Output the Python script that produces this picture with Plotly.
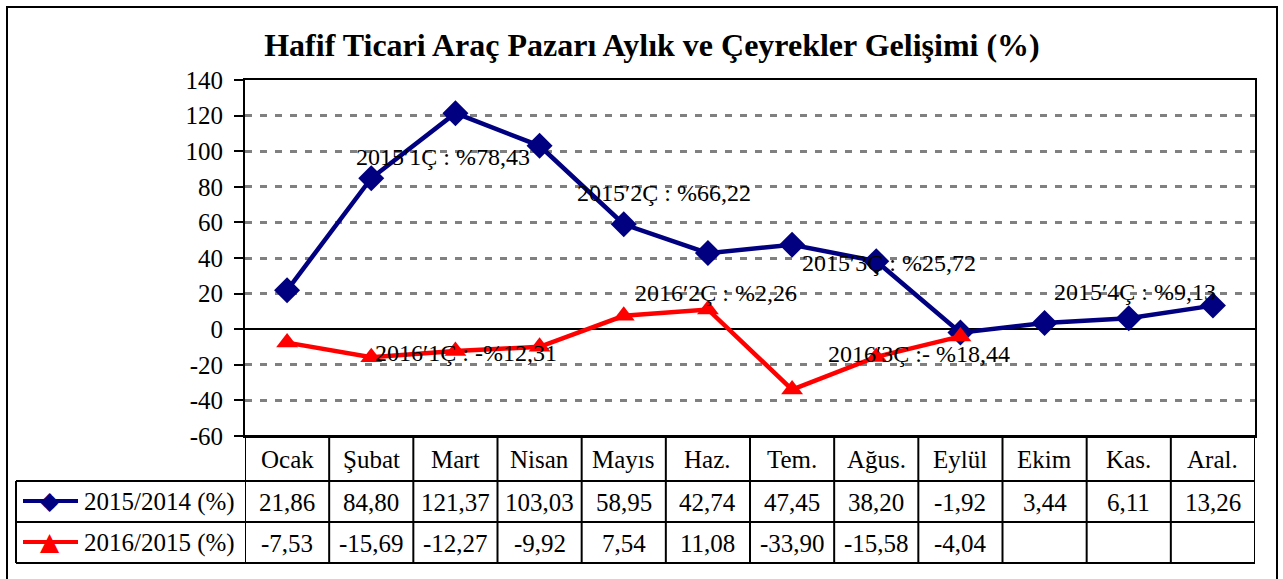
import plotly.graph_objects as go

months = ["Ocak", "Şubat", "Mart", "Nisan", "Mayıs", "Haz.", "Tem.", "Ağus.", "Eylül", "Ekim", "Kas.", "Aral."]
s2015 = [21.86, 84.80, 121.37, 103.03, 58.95, 42.74, 47.45, 38.20, -1.92, 3.44, 6.11, 13.26]
s2016 = [-7.53, -15.69, -12.27, -9.92, 7.54, 11.08, -33.90, -15.58, -4.04, None, None, None]
series_names = ["2015/2014 (%)", "2016/2015 (%)"]
quarter_labels = ["2015′1Ç : %78,43", "2015′2Ç : %66,22", "2015′3Ç : %25,72", "2015′4Ç : %9,13",
                  "2016′1Ç : -%12,31", "2016′2Ç : %2,26", "2016′3Ç :- %18,44"]
quarter_pos = [(1.85, 96.7), (4.48, 76.5), (7.15, 37.2), (10.07, 20.9),
               (2.13, -13.3), (5.10, 20.3), (7.51, -14.2)]
yticks = [-60, -40, -20, 0, 20, 40, 60, 80, 100, 120, 140]
yticktext = [str(v) for v in yticks]

FONT = "Liberation Serif, Times New Roman, serif"
BLUE = "#000080"
RED = "#FF0000"
x = list(range(len(months)))

fig = go.Figure()
fig.add_trace(go.Scatter(x=x, y=s2015, mode="lines+markers", name=series_names[0],
                         line=dict(color=BLUE, width=4.5),
                         marker=dict(symbol="diamond", size=20, color=BLUE)))
fig.add_trace(go.Scatter(x=x, y=s2016, mode="lines+markers", name=series_names[1],
                         line=dict(color=RED, width=4.5),
                         marker=dict(symbol="triangle-up", size=19, color=RED)))

W, H = 1283, 579
L, R, T, B = 245, 28, 80, 143
pw, ph = W - L - R, H - T - B


def py(p):  # pixel y -> paper
    return (H - B - p) / ph


def px(p):  # pixel x -> paper
    return (p - L) / pw


shapes = []
ann = []
line = dict(color="black", width=2)
# outer border
shapes.append(dict(type="rect", xref="paper", yref="paper", x0=px(7), x1=px(1277),
                   y0=py(600), y1=py(7), line=line))
# table rows
row_y = [436, 481, 522, 563]
shapes.append(dict(type="line", xref="paper", yref="paper", x0=0, x1=1, y0=py(436), y1=py(436), line=line))
for ry in row_y[1:]:
    shapes.append(dict(type="line", xref="paper", yref="paper", x0=px(16), x1=1, y0=py(ry), y1=py(ry), line=line))
for i in range(len(months) + 1):
    shapes.append(dict(type="line", xref="x", yref="paper", x0=i - 0.5, x1=i - 0.5,
                       y0=py(563), y1=py(436), line=line))
shapes.append(dict(type="line", xref="paper", yref="paper", x0=px(16), x1=px(16),
                   y0=py(563), y1=py(481), line=line))

tf = dict(family=FONT, size=25, color="black")


def cell(xv, yv, text, xref="x", xanchor="center", font=tf):
    return dict(x=xv, y=yv, xref=xref, yref="paper", text=text, showarrow=False,
                xanchor=xanchor, yanchor="middle", font=font)


for i, m in enumerate(months):
    ann.append(cell(i, py(459), m))
    ann.append(cell(i, py(502), f"{s2015[i]:.2f}".replace(".", ",")))
    if s2016[i] is not None:
        ann.append(cell(i, py(543), f"{s2016[i]:.2f}".replace(".", ",")))

# legend keys in table
for ry, col, sym, name in [(501, BLUE, "◆", series_names[0]), (542, RED, "▲", series_names[1])]:
    shapes.append(dict(type="line", xref="paper", yref="paper", x0=px(23), x1=px(78),
                       y0=py(ry), y1=py(ry), line=dict(color=col, width=4)))
    ann.append(cell(px(50), py(ry - 1), sym, xref="paper",
                    font=dict(family="DejaVu Sans", size=25, color=col)))
    ann.append(cell(px(82), py(ry + 1), name, xref="paper", xanchor="left"))

for txt, (qx, qy) in zip(quarter_labels, quarter_pos):
    ann.append(dict(x=qx, y=qy, xref="x", yref="y", text=txt, showarrow=False,
                    font=dict(family=FONT, size=24, color="black"),
                    xanchor="center", yanchor="middle"))

fig.update_layout(
    width=W, height=H,
    margin=dict(l=L, r=R, t=T, b=B),
    paper_bgcolor="white", plot_bgcolor="white",
    font=dict(family=FONT, color="black"),
    showlegend=False,
    title=dict(text="<b>Hafif Ticari Araç Pazarı Aylık ve Çeyrekler Gelişimi (%)</b>",
               x=652 / W, xanchor="center", xref="container", y=1 - 45 / H, yanchor="middle",
               yref="container",
               font=dict(family=FONT, size=32, color="black")),
    xaxis=dict(range=[-0.5, len(months) - 0.5], showticklabels=False, showgrid=False,
               zeroline=False, showline=True, linecolor="black", linewidth=2, mirror=True,
               ticks=""),
    yaxis=dict(range=[-60, 140], tickmode="array", tickvals=yticks, ticktext=yticktext,
               showgrid=True, gridcolor="#808080",
               gridwidth=3, griddash="7px,8px", zeroline=True, zerolinecolor="black",
               zerolinewidth=2, showline=True, linecolor="black", linewidth=2, mirror=True,
               ticks="outside", ticklen=9, tickwidth=2, tickcolor="black",
               ticklabelstandoff=6,
               tickfont=dict(family=FONT, size=25, color="black")),
    shapes=shapes, annotations=ann,
)

fig.write_html("out.html")
